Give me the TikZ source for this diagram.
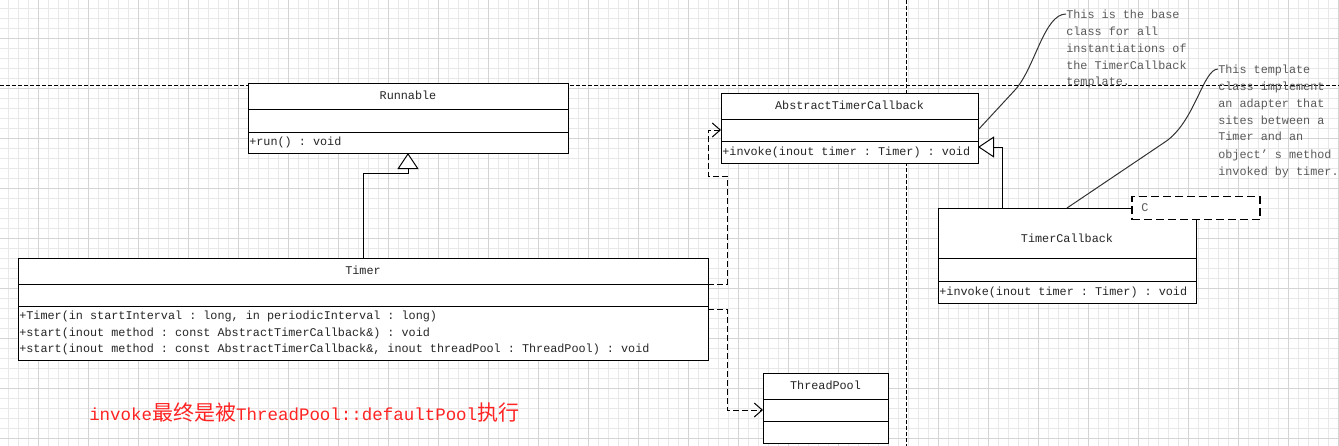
\documentclass[tikz,border=0pt]{standalone}
\usepackage{fontspec}
\setmainfont{Liberation Mono}
\newfontfamily\cjk{Noto Sans CJK SC}
\usetikzlibrary{positioning}
\usetikzlibrary{arrows.meta}

\definecolor{gridminor}{HTML}{E8E8E8}
\definecolor{gridmajor}{HTML}{D4D4D4}
\definecolor{umltext}{HTML}{262626}
\definecolor{notetext}{HTML}{5A5A5A}
\definecolor{redtext}{HTML}{FF2424}

\newcommand{\fixspace}{\frenchspacing\spaceskip=0.6em\relax\xspaceskip=0.6em\relax}
\newcommand{\umlfont}{\fontsize{8.85pt}{12.4pt}\selectfont}
\newcommand{\zh}[1]{{\cjk\fontsize{15.75pt}{16pt}\selectfont #1}}

\tikzset{
  minorline/.style={gridminor, line width=0.75pt},
  majorline/.style={gridmajor, line width=0.75pt},
  umlpart/.style={draw, fill=white, line width=0.75pt, inner xsep=1pt, inner ysep=0pt,
    outer sep=0pt, text width=#1, font=\umlfont, text=umltext, align=left,
    execute at begin node=\fixspace},
  umltitle/.style={umlpart=#1, align=center, minimum height=19.5pt, text height=6.5pt, text depth=1.8pt},
  generalize/.style={line width=0.75pt, -{Triangle[length=12pt,width=15.75pt,fill=white]}},
  depend/.style={line width=0.75pt, dash pattern=on 4.5pt off 2.25pt,
    -{Straight Barb[length=6pt,width=10.5pt]}},
  pagebreak/.style={line width=0.75pt, dash pattern=on 3pt off 1.5pt},
  notetxt/.style={font=\fontsize{8.85pt}{12.75pt}\selectfont, text=notetext, inner sep=0pt,
    align=left, text width=#1, execute at begin node=\fixspace},
  noteline/.style={line width=0.75pt, black!80},
  tparam/.style={draw, fill=white, line width=1pt, dash pattern=on 6pt off 3pt,
    minimum height=17.25pt, inner xsep=7pt, inner ysep=0pt, text width=82pt,
    align=left, font=\umlfont, text=notetext},
  redtxt/.style={font=\fontsize{13.1pt}{16pt}\selectfont, text=redtext, inner sep=0pt}
}

\begin{document}
\begin{tikzpicture}[x=0.75pt,y=-0.75pt]
    \fill[white] (0,0) rectangle (1339,446);
    \useasboundingbox (0,0) rectangle (1339,446);

    % grid
    \foreach \gx in {8,18,...,1338} \draw[minorline] (\gx,0) -- (\gx,446);
    \foreach \gy in {8,18,...,438} \draw[minorline] (0,\gy) -- (1339,\gy);
    \foreach \gx in {38,88,...,1338} \draw[majorline] (\gx,0) -- (\gx,446);
    \foreach \gy in {38,88,...,438} \draw[majorline] (0,\gy) -- (1339,\gy);

    % page breaks
    \draw[pagebreak] (0,85) -- (1339,85);
    \draw[pagebreak] (906,0) -- (906,446);

    % notes
    \node[notetxt=100pt, anchor=base west] (note-base) at (1066,18)
        {This is the base\\class for all\\instantiations of\\the TimerCallback\\template.};
    \node[notetxt=100pt, anchor=base west] (note-tmpl) at (1218,73)
        {This template\\class implement\\an adapter that\\sites between a\\Timer and an\\object’ s method\\invoked by timer.};

    % Runnable
    \node[umltitle=238pt] (run-title) at (408,96) {Runnable};
    \node[umlpart=238pt, minimum height=17.25pt, below=0pt of run-title] (run-attr) {};
    \node[umlpart=238pt, minimum height=15.75pt, below=0pt of run-attr] (run-ops) {+run() : void};

    % Timer
    \node[umltitle=515.5pt] (timer-title) at (363,271) {Timer};
    \node[umlpart=515.5pt, minimum height=16.5pt, below=0pt of timer-title] (timer-attr) {};
    \node[umlpart=515.5pt, minimum height=40.5pt, below=0pt of timer-attr] (timer-ops)
        {+Timer(in startInterval : long, in periodicInterval : long)\\
         +start(inout method : const AbstractTimerCallback\&) : void\\
         +start(inout method : const AbstractTimerCallback\&, inout threadPool : ThreadPool) : void};

    % AbstractTimerCallback
    \node[umltitle=190.75pt] (atc-title) at (849.5,106) {AbstractTimerCallback};
    \node[umlpart=190.75pt, minimum height=16.5pt, below=0pt of atc-title] (atc-attr) {};
    \node[umlpart=190.75pt, minimum height=16.5pt, below=0pt of atc-attr] (atc-ops)
        {+invoke(inout timer : Timer) : void};

    % ThreadPool
    \node[umltitle=91.75pt] (tp-title) at (825.5,386) {ThreadPool};
    \node[umlpart=91.75pt, minimum height=16.5pt, below=0pt of tp-title] (tp-attr) {};
    \node[umlpart=91.75pt, minimum height=16.5pt, below=0pt of tp-attr] (tp-ops) {};

    % TimerCallback
    \node[umltitle=191.5pt, minimum height=37.5pt, text height=14pt, text depth=0pt] (tcb-title) at (1067,233) {TimerCallback};
    \node[umlpart=191.5pt, minimum height=17.25pt, below=0pt of tcb-title] (tcb-attr) {};
    \node[umlpart=191.5pt, minimum height=16.5pt, below=0pt of tcb-attr] (tcb-ops)
        {+invoke(inout timer : Timer) : void};
    \node[tparam] (tcb-param) at (tcb-title.north east) {C};

    % relations
    \draw[generalize] (timer-title.north) |- ([yshift=-15pt]run-ops.south) -- (run-ops.south);
    \draw[generalize] ([xshift=48pt]tcb-title.north west) |- ([yshift=-4.5pt]atc-ops.north east);
    \coordinate (depA1) at (727,176);
    \coordinate (depA2) at (708,176);
    \draw[depend] (timer-title.south east) -| (depA1) -- (depA2) |- (atc-attr.west);
    \coordinate (depB) at (727,408);
    \draw[depend] ([yshift=-2.25pt]timer-ops.north east) -| (depB |- tp-attr.west) -- (tp-attr.west);

    % note links
    \draw[noteline] (atc-attr.east) -- (1015,90) .. controls (1035,68) and (1044,14) .. ([yshift=3pt]note-base.base west);
    \draw[noteline] (tcb-title.north) -- (1165,142) .. controls (1195,122) and (1203,69) .. ([yshift=3pt]note-tmpl.base west);

    % remark
    \node[redtxt, anchor=west] (remark) at (89,413)
        {invoke\zh{最终是被}ThreadPool::defaultPool\zh{执行}};
\end{tikzpicture}
\end{document}
